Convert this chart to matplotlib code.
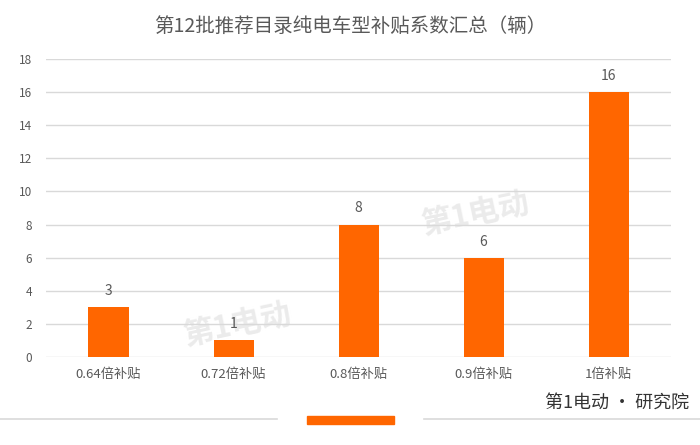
import matplotlib
matplotlib.use("Agg")
import matplotlib.pyplot as plt
from matplotlib.patches import Rectangle
from matplotlib.lines import Line2D

plt.rcParams['font.family'] = ['Noto Sans CJK SC', 'DejaVu Sans']

categories = ["0.64倍补贴", "0.72倍补贴", "0.8倍补贴", "0.9倍补贴", "1倍补贴"]
counts = [3, 1, 8, 6, 16]
title = "第12批推荐目录纯电车型补贴系数汇总（辆）"

bar_color = "#FF6600"
text_color = "#595959"
grid_color = "#D9D9D9"

fig = plt.figure(figsize=(7, 4.45), dpi=100)
ax = fig.add_axes([0.0657, 0.1978, 0.893, 0.6697])

x = range(len(categories))
bars = ax.bar(x, counts, width=0.32, color=bar_color, zorder=3)
for b, v in zip(bars, counts):
    ax.text(b.get_x() + b.get_width() / 2, v + 0.55, str(v), ha="center", va="bottom",
            fontsize=10, color=text_color, zorder=4)

ax.set_xlim(-0.5, len(categories) - 0.5)
ax.set_ylim(0, 18)
ax.set_yticks(range(0, 19, 2))
ax.set_xticks(list(x))
ax.set_xticklabels(categories, fontsize=9.5, color=text_color)
ax.tick_params(axis="y", labelsize=8.5, colors=text_color, length=0, pad=10)
ax.tick_params(axis="x", length=0, pad=8)
ax.yaxis.grid(True, color=grid_color, linewidth=1, zorder=0)
for s in ax.spines.values():
    s.set_visible(False)

fig.text(0.5, 0.94, title, ha="center", va="center", fontsize=14, color=text_color)

# watermarks (behind the bars)
for wx, wy in [(0.68, 0.52), (0.34, 0.27)]:
    ax.text(wx, wy, "第1电动", fontsize=22, color="#EBEBEB", rotation=12,
            ha="center", va="center", fontweight="bold", zorder=1,
            transform=fig.transFigure)

# cut-off legend at the bottom
fig.add_artist(Line2D([0, 277 / 700], [26 / 445, 26 / 445], color=grid_color, lw=1.2))
fig.add_artist(Line2D([424 / 700, 1], [26 / 445, 26 / 445], color=grid_color, lw=1.2))
fig.add_artist(Rectangle((307 / 700, 21 / 445), 87 / 700, 8 / 445, color=bar_color,
                         transform=fig.transFigure))

fig.text(0.985, 0.094, "第1电动 · 研究院", ha="right", va="center", fontsize=13,
         color="#333333")

fig.savefig("out.png", dpi=100)
